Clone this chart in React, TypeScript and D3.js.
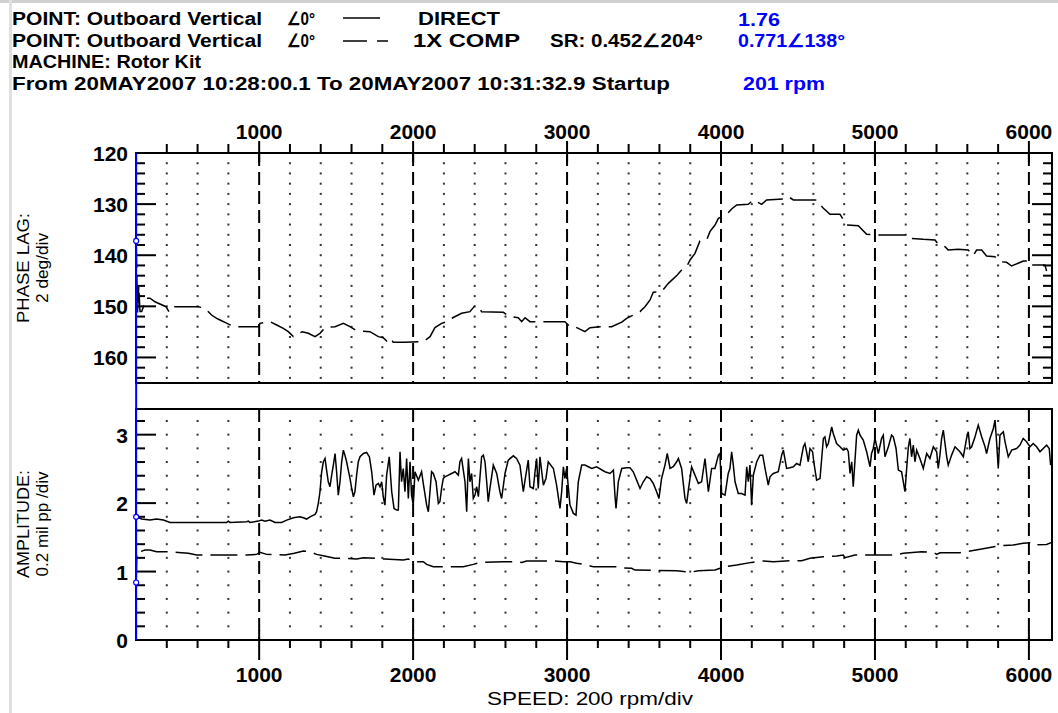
import React from 'react';
import * as d3 from 'd3';

// ---------- data ----------
const X_MAJOR = [1000, 2000, 3000, 4000, 5000, 6000];
const PHASE_LABELS = [120, 130, 140, 150, 160];
const AMP_LABELS = [0, 1, 2, 3];

// 1X COMP phase lag (deg) vs speed (rpm)
const compPhase: [number, number][] = [
  [201, 137.2], [210, 151.2], [218, 146.0], [226, 151.0], [237, 151.0], [269, 148.4], [291, 148.4], [323, 149.1],
  [395, 150.07], [416, 151.17], [453, 150.07], [551, 150.07],
  [605, 150.07], [648, 150.39], [691, 151.7], [724, 152.35], [746, 152.67], [778, 153.13],
  [836, 153.98], [995, 153.98], [1005, 153.33],
  [1070, 153.0], [1114, 153.65], [1157, 154.3], [1189, 154.96], [1222, 155.93],
  [1280, 154.96], [1319, 155.28], [1363, 155.93], [1395, 155.28], [1428, 154.17], [1493, 153.98],
  [1547, 153.33], [1590, 153.98], [1633, 154.76], [1720, 154.96],
  [1774, 155.93], [1806, 156.13], [1828, 156.78], [1850, 156.13], [1871, 157.04], [1904, 157.04],
  [1947, 157.04], [2066, 156.91], [2110, 155.93],
  [2142, 154.17], [2185, 153.33], [2218, 153.0], [2250, 152.35], [2315, 151.37],
  [2369, 151.04], [2402, 149.87], [2424, 150.07], [2445, 151.04], [2586, 151.17],
  [2629, 152.02], [2683, 152.22], [2705, 153.0], [2727, 152.22], [2759, 153.0], [2802, 153.0],
  [2867, 153.0], [2986, 153.0], [3019, 153.98], [3051, 153.98],
  [3116, 154.96], [3149, 154.17], [3214, 153.98], [3290, 153.98],
  [3355, 153.1], [3387, 152.35], [3430, 151.7], [3474, 151.04], [3506, 150.07], [3539, 148.76], [3560, 147.26],
  [3614, 147.13], [3658, 145.5], [3716, 143.87], [3744, 142.89], [3777, 142.24], [3799, 140.93], [3831, 139.63],
  [3863, 137.22], [3907, 137.02], [3928, 135.39], [3961, 134.09], [3983, 132.78],
  [4037, 132.0], [4069, 130.96], [4102, 130.17], [4177, 130.04], [4210, 129.19],
  [4264, 130.04], [4296, 129.19], [4405, 129.0], [4437, 128.54],
  [4470, 129.19], [4621, 129.19], [4665, 130.83], [4708, 132.0], [4773, 132.0],
  [4816, 134.09], [4892, 134.22], [4946, 135.91], [5000, 136.04],
  [5054, 136.04], [5217, 136.04], [5238, 136.7],
  [5314, 136.89], [5390, 137.02], [5411, 137.87], [5455, 138.33], [5476, 138.98],
  [5541, 138.85], [5606, 138.98], [5639, 140.09], [5660, 138.98], [5693, 138.98],
  [5725, 140.15], [5779, 140.28], [5812, 141.26], [5855, 141.39], [5888, 142.11],
  [5964, 141.13], [6007, 141.13], [6018, 141.91], [6104, 141.91], [6115, 143.09],
];

// DIRECT amplitude (mil pp) vs speed (rpm)
const directAmp: [number, number][] = [
  [201, 1.80], [237, 1.767], [291, 1.752], [334, 1.767], [378, 1.752], [421, 1.718], [594, 1.718], [789, 1.718],
  [800, 1.737], [811, 1.718], [919, 1.727], [930, 1.737], [940, 1.718], [995, 1.737], [1016, 1.752], [1038, 1.737],
  [1070, 1.752], [1103, 1.718], [1146, 1.718], [1179, 1.752], [1222, 1.786], [1265, 1.80], [1287, 1.786], [1308, 1.767],
  [1330, 1.80], [1363, 1.835], [1373, 1.874], [1384, 1.995], [1395, 2.166], [1406, 2.458], [1417, 2.604], [1428, 2.652],
  [1438, 2.482], [1449, 2.312], [1460, 2.239], [1471, 2.409], [1482, 2.555], [1493, 2.725], [1503, 2.458], [1514, 2.117],
  [1525, 2.312], [1536, 2.604], [1547, 2.774], [1557, 2.701], [1568, 2.604], [1579, 2.482], [1590, 2.360], [1601, 2.214],
  [1612, 2.093], [1622, 2.166], [1633, 2.409], [1644, 2.604], [1655, 2.677], [1677, 2.725], [1698, 2.740], [1716, 2.677],
  [1731, 2.458], [1746, 2.117], [1759, 2.263], [1774, 2.287], [1785, 2.239], [1796, 2.312], [1806, 2.093], [1817, 1.971],
  [1828, 2.409], [1845, 2.677], [1861, 2.166], [1876, 1.922], [1893, 1.898], [1904, 1.898], [1915, 2.750], [1925, 2.312],
  [1936, 2.506], [1947, 2.166], [1958, 2.652], [1969, 2.068], [1980, 2.604], [1990, 2.117], [2001, 1.971], [2012, 2.458],
  [2034, 2.336], [2055, 2.458], [2066, 2.287], [2088, 1.971], [2099, 1.874], [2120, 2.458], [2131, 2.433], [2149, 2.312],
  [2164, 1.995], [2174, 2.020], [2185, 2.214], [2196, 2.360], [2207, 2.385], [2229, 2.409], [2250, 2.433], [2272, 2.458],
  [2294, 2.409], [2304, 2.604], [2315, 2.652], [2326, 2.482], [2337, 2.312], [2348, 1.874], [2359, 2.652], [2369, 2.312],
  [2380, 2.433], [2391, 2.068], [2402, 2.117], [2413, 2.239], [2424, 2.093], [2445, 2.677], [2456, 2.701], [2467, 2.604],
  [2478, 2.312], [2488, 2.020], [2499, 2.214], [2521, 2.555], [2543, 2.433], [2564, 2.166], [2575, 2.068], [2597, 2.433],
  [2618, 2.628], [2651, 2.691], [2672, 2.652], [2694, 2.555], [2716, 2.166], [2727, 2.336], [2748, 2.628], [2759, 2.239],
  [2781, 2.214], [2792, 2.458], [2802, 2.652], [2813, 2.214], [2824, 2.677], [2846, 2.263], [2863, 2.360], [2878, 2.604],
  [2911, 2.506], [2932, 2.263], [2954, 1.922], [2965, 2.166], [2976, 2.531], [2986, 2.360], [2997, 2.506], [3019, 1.971],
  [3041, 1.850], [3058, 1.825], [3073, 2.312], [3095, 2.555], [3116, 2.555], [3138, 2.531], [3160, 2.506], [3192, 2.531],
  [3246, 2.458], [3279, 2.433], [3301, 2.482], [3311, 2.117], [3318, 1.922], [3333, 2.312], [3355, 2.506], [3387, 2.516],
  [3409, 2.516], [3430, 2.458], [3452, 2.336], [3474, 2.214], [3495, 2.312], [3517, 2.385], [3539, 2.360], [3560, 2.287],
  [3582, 2.166], [3597, 2.068], [3614, 2.360], [3636, 2.555], [3651, 2.725], [3669, 2.506], [3690, 2.531], [3712, 2.604],
  [3723, 2.652], [3744, 2.506], [3766, 2.068], [3777, 1.995], [3788, 2.190], [3809, 2.531], [3831, 2.409], [3853, 2.287],
  [3874, 2.312], [3896, 2.652], [3918, 2.166], [3939, 2.506], [3961, 2.506], [3983, 2.701], [3993, 2.725], [4004, 2.141],
  [4026, 2.117], [4047, 2.433], [4058, 2.506], [4069, 2.750], [4080, 2.555], [4091, 2.312], [4112, 2.141], [4134, 2.141],
  [4156, 2.117], [4167, 2.531], [4177, 2.312], [4188, 2.555], [4199, 1.971], [4210, 2.409], [4232, 2.604], [4253, 2.701],
  [4271, 2.701], [4286, 2.506], [4307, 2.263], [4318, 2.385], [4340, 2.433], [4372, 2.458], [4394, 2.701], [4405, 2.774],
  [4426, 2.506], [4448, 2.516], [4470, 2.531], [4491, 2.579], [4513, 2.555], [4535, 2.823], [4545, 2.871], [4556, 2.750],
  [4567, 2.604], [4578, 2.798], [4595, 2.750], [4604, 2.579], [4621, 2.336], [4643, 2.360], [4665, 2.944], [4675, 2.969],
  [4686, 2.823], [4697, 2.871], [4708, 2.993], [4719, 3.115], [4729, 3.017], [4751, 2.871], [4773, 2.823], [4794, 2.774],
  [4816, 2.798], [4827, 2.750], [4838, 2.433], [4849, 2.604], [4859, 2.239], [4881, 2.993], [4892, 3.066], [4903, 2.993],
  [4924, 2.920], [4946, 2.750], [4968, 2.531], [4978, 2.725], [4989, 2.798], [5000, 2.944], [5022, 2.725], [5043, 2.944],
  [5054, 2.993], [5065, 2.677], [5087, 2.823], [5108, 2.993], [5119, 2.969], [5137, 2.798], [5152, 2.482], [5173, 2.458],
  [5195, 2.166], [5206, 2.506], [5217, 2.823], [5227, 2.944], [5238, 2.677], [5249, 2.847], [5260, 2.604], [5271, 2.774],
  [5292, 2.652], [5314, 2.506], [5336, 2.725], [5357, 2.652], [5379, 2.823], [5401, 2.750], [5411, 2.506], [5422, 2.701],
  [5433, 2.944], [5444, 3.066], [5455, 2.871], [5466, 2.677], [5476, 2.555], [5498, 2.701], [5520, 2.823], [5552, 2.750],
  [5574, 2.677], [5595, 2.944], [5606, 3.042], [5617, 2.798], [5628, 2.823], [5650, 2.969], [5671, 3.139], [5693, 2.969],
  [5715, 2.823], [5725, 2.725], [5747, 2.944], [5769, 3.090], [5780, 3.212], [5790, 2.896], [5801, 2.506], [5812, 2.993],
  [5834, 3.042], [5845, 2.896], [5866, 2.677], [5888, 2.774], [5920, 2.798], [5942, 2.847], [5963, 2.944], [5985, 2.896],
  [6007, 2.823], [6028, 2.871], [6050, 2.823], [6072, 2.750], [6093, 2.798], [6115, 2.847], [6132, 2.798], [6141, 2.555],
];

// 1X COMP amplitude (mil pp) vs speed (rpm)
const compAmp: [number, number][] = [
  [201, 0.84], [206, 1.29], [226, 1.290], [258, 1.314], [291, 1.314], [334, 1.290], [410, 1.290], [475, 1.280],
  [540, 1.266], [594, 1.241], [659, 1.241], [728, 1.241], [919, 1.241], [984, 1.251], [1005, 1.280], [1049, 1.251],
  [1168, 1.241], [1228, 1.266], [1287, 1.300], [1330, 1.290], [1373, 1.251], [1417, 1.232], [1492, 1.193], [1568, 1.193],
  [1633, 1.183], [1677, 1.202], [1752, 1.193], [1817, 1.183], [1936, 1.168], [1969, 1.183], [2001, 1.144], [2066, 1.144],
  [2088, 1.105], [2131, 1.071], [2250, 1.071], [2326, 1.071], [2391, 1.105], [2434, 1.134], [2586, 1.144], [2672, 1.144],
  [2705, 1.134], [2737, 1.154], [2846, 1.154], [2921, 1.154], [2976, 1.144], [3019, 1.144], [3062, 1.120], [3095, 1.110],
  [3170, 1.071], [3333, 1.071], [3355, 1.056], [3420, 1.047], [3441, 1.022], [3712, 1.013], [3798, 0.988], [3853, 1.013],
  [3961, 1.022], [4026, 1.071], [4102, 1.095], [4199, 1.134], [4275, 1.154], [4340, 1.144], [4459, 1.159], [4524, 1.159],
  [4578, 1.193], [4665, 1.217], [4751, 1.227], [4794, 1.241], [4805, 1.202], [4870, 1.241], [5054, 1.241], [5119, 1.241],
  [5184, 1.266], [5303, 1.290], [5379, 1.280], [5401, 1.251], [5422, 1.275], [5552, 1.275], [5628, 1.305], [5693, 1.329],
  [5747, 1.353], [5812, 1.378], [5898, 1.387], [5963, 1.412], [6007, 1.421], [6028, 1.387], [6115, 1.397], [6148, 1.426],
];

const CURSOR_RPM = 201;
const CURSOR_PHASE = 137.2;
const CURSOR_DIRECT = 1.80;
const CURSOR_COMP = 0.84;

// ---------- layout ----------
const W = 1058, H = 713;
const L = 136, R = 1052;
const P1T = 153, P1B = 383, P2T = 409, P2B = 640;
const FONT = "'Liberation Sans', Arial, sans-serif";
const BLUE = '#0000ff';

const x = d3.scaleLinear().domain([200, 6150]).range([L, R]);
const yPh = d3.scaleLinear().domain([120, 165]).range([P1T, P1B]);
const yAmp = d3.scaleLinear().domain([0, 3.375]).range([P2B, P2T]);

const xMinor = d3.range(400, 6150, 200).filter((v) => v % 1000 !== 0);
const phTicks = d3.range(122, 165, 2);
const ampTicks = d3.range(1, 17).map((i) => +(i * 0.2).toFixed(1));

function T(p: { x: number; y: number; t: string; size?: number; bold?: boolean; fill?: string; anchor?: string; w?: number; rotate?: boolean }) {
  const { size = 18, bold = true, fill = '#000', anchor = 'start', w } = p;
  const extra: any = {};
  if (w) { extra.textLength = w; extra.lengthAdjust = 'spacingAndGlyphs'; }
  return (
    <text
      x={p.rotate ? 0 : p.x}
      y={p.rotate ? 0 : p.y}
      transform={p.rotate ? `translate(${p.x},${p.y}) rotate(-90)` : undefined}
      fontFamily={FONT}
      fontSize={size}
      fontWeight={bold ? 'bold' : 'normal'}
      fill={fill}
      textAnchor={anchor}
      {...extra}
    >
      {p.t}
    </text>
  );
}

export default function App() {
  const phLine = d3.line<[number, number]>().x((d) => x(d[0])).y((d) => yPh(d[1]));
  const ampLine = d3.line<[number, number]>().x((d) => x(d[0])).y((d) => yAmp(d[1]));

  return (
    <svg width={W} height={H} style={{ position: 'absolute', left: 0, top: 0, background: '#fff' }}>
      <rect x={0} y={0} width={W} height={H} fill="#fff" />
      <rect x={0} y={0} width={W} height={3} fill="#d0d0d0" />
      <rect x={9} y={0} width={3} height={H} fill="#e0e0e0" />

      {/* header */}
      <T x={12} y={25} t="POINT: Outboard Vertical" w={250} />
      <T x={287} y={25} t="∠0°" w={28} />
      <line x1={343} x2={380} y1={18} y2={18} stroke="#000" strokeWidth={1.5} />
      <T x={418} y={25} t="DIRECT" w={82} />
      <T x={738} y={26} t="1.76" fill={BLUE} w={42} />

      <T x={12} y={47} t="POINT: Outboard Vertical" w={250} />
      <T x={287} y={47} t="∠0°" w={28} />
      <line x1={343} x2={367} y1={41} y2={41} stroke="#000" strokeWidth={1.5} />
      <line x1={377} x2={388} y1={41} y2={41} stroke="#000" strokeWidth={1.5} />
      <T x={413} y={47} t="1X COMP" w={107} />
      <T x={550} y={47} t="SR: 0.452∠204°" w={153} />
      <T x={738} y={47} t="0.771∠138°" fill={BLUE} w={107} />

      <T x={12} y={68} t="MACHINE: Rotor Kit" w={189} />
      <T x={12} y={90} t="From 20MAY2007 10:28:00.1 To 20MAY2007 10:31:32.9 Startup" w={658} />
      <T x={743} y={90} t="201 rpm" fill={BLUE} w={82} />

      {/* ---------- phase plot ---------- */}
      {xMinor.map((v) =>
        phTicks.map((t) => <rect key={`pd${v}-${t}`} x={x(v) - 1} y={yPh(t) - 1} width={2} height={2} fill="#333" />)
      )}
      {xMinor.map((v) => (
        <line key={`ptm${v}`} x1={x(v)} x2={x(v)} y1={P1T - 9} y2={P1T} stroke="#000" strokeWidth={2} />
      ))}
      {X_MAJOR.map((v) => (
        <g key={`ptM${v}`}>
          <line x1={x(v)} x2={x(v)} y1={P1T - 12} y2={P1T + 9} stroke="#000" strokeWidth={2} />
          <line x1={x(v)} x2={x(v)} y1={P1T} y2={P1B} stroke="#000" strokeWidth={2} strokeDasharray="13,6" />
          <T x={x(v)} y={139} t={String(v)} size={21} anchor="middle" />
        </g>
      ))}
      {phTicks.map((t) => {
        const major = t % 10 === 0;
        const len = major ? 20 : 9;
        return (
          <g key={`pyt${t}`}>
            <line x1={L} x2={L + len} y1={yPh(t)} y2={yPh(t)} stroke="#000" strokeWidth={2} />
            <line x1={R - len} x2={R} y1={yPh(t)} y2={yPh(t)} stroke="#000" strokeWidth={2} />
          </g>
        );
      })}
      {PHASE_LABELS.map((t) => (
        <T key={`pyl${t}`} x={128} y={yPh(t) + 8} t={String(t)} size={21} anchor="end" />
      ))}
      <rect x={L} y={P1T} width={R - L} height={P1B - P1T} fill="none" stroke="#000" strokeWidth={2} />
      <path d={phLine(compPhase) || ''} fill="none" stroke="#000" strokeWidth={1.5} strokeDasharray="27,8" />

      {/* ---------- amplitude plot ---------- */}
      {xMinor.map((v) =>
        ampTicks.map((t) => <rect key={`ad${v}-${t}`} x={x(v) - 1} y={yAmp(t) - 1} width={2} height={2} fill="#333" />)
      )}
      {xMinor.map((v) => (
        <line key={`atm${v}`} x1={x(v)} x2={x(v)} y1={P2B} y2={P2B + 8} stroke="#000" strokeWidth={2} />
      ))}
      {X_MAJOR.map((v) => (
        <g key={`atM${v}`}>
          <line x1={x(v)} x2={x(v)} y1={P2B - 10} y2={P2B + 20} stroke="#000" strokeWidth={2} />
          <line x1={x(v)} x2={x(v)} y1={P2T} y2={P2B} stroke="#000" strokeWidth={2} strokeDasharray="13,6" />
          <T x={x(v)} y={682} t={String(v)} size={21} anchor="middle" />
        </g>
      ))}
      {ampTicks.map((t, i) => {
        const major = (i + 1) % 5 === 0;
        const len = major ? 20 : 9;
        return <line key={`ayt${t}`} x1={L} x2={L + len} y1={yAmp(t)} y2={yAmp(t)} stroke="#000" strokeWidth={2} />;
      })}
      {AMP_LABELS.map((t) => (
        <T key={`ayl${t}`} x={128} y={yAmp(t) + 8} t={String(t)} size={21} anchor="end" />
      ))}
      <rect x={L} y={P2T} width={R - L} height={P2B - P2T} fill="none" stroke="#000" strokeWidth={2} />
      <path d={ampLine(compAmp) || ''} fill="none" stroke="#000" strokeWidth={1.5} strokeDasharray="27,8" />
      <path d={ampLine(directAmp) || ''} fill="none" stroke="#000" strokeWidth={1.5} />

      {/* axis titles */}
      <T x={29} y={268} t="PHASE LAG:" size={16} bold={false} anchor="middle" rotate w={110} />
      <T x={48} y={268} t="2 deg/div" size={16} bold={false} anchor="middle" rotate w={70} />
      <T x={29} y={524} t="AMPLITUDE:" size={16} bold={false} anchor="middle" rotate w={108} />
      <T x={48} y={524} t="0.2 mil pp /div" size={16} bold={false} anchor="middle" rotate w={105} />
      <T x={590} y={705} t="SPEED: 200 rpm/div" size={18} bold={false} anchor="middle" w={206} />

      {/* cursor */}
      <line x1={x(CURSOR_RPM)} x2={x(CURSOR_RPM)} y1={P1T} y2={P2B} stroke={BLUE} strokeWidth={2} />
      <circle cx={x(CURSOR_RPM)} cy={yPh(CURSOR_PHASE)} r={2.5} fill="#fff" stroke={BLUE} strokeWidth={1.2} />
      <circle cx={x(CURSOR_RPM)} cy={yAmp(CURSOR_DIRECT)} r={2.5} fill="#fff" stroke={BLUE} strokeWidth={1.2} />
      <circle cx={x(CURSOR_RPM)} cy={yAmp(CURSOR_COMP)} r={2.5} fill="#fff" stroke={BLUE} strokeWidth={1.2} />
    </svg>
  );
}
